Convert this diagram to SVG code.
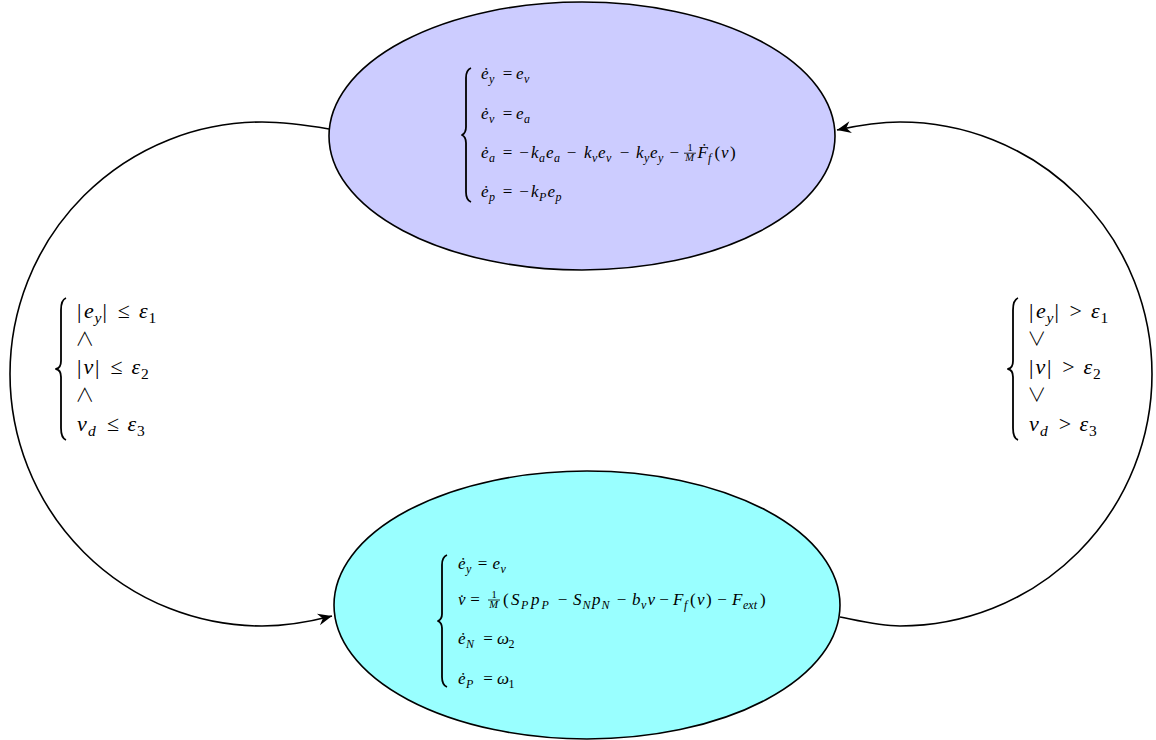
<svg xmlns="http://www.w3.org/2000/svg" width="1156" height="740" viewBox="0 0 1156 740">
<style>
.m{font-family:"Liberation Serif","Times New Roman",serif;font-style:italic;fill:#000}
.u{font-style:normal}
.s{font-size:17px}
.ss{font-size:12px}
.fr{font-size:10.5px}
.b{font-size:22px}
.bs{font-size:15.5px}
.lg{font-family:"Noto Sans CJK JP","DejaVu Sans",sans-serif;font-weight:300;font-size:19px;text-anchor:middle;fill:#000}
.node{stroke:#000;stroke-width:1.6}
.brace{fill:none;stroke:#000;stroke-width:1.8;stroke-linejoin:round}
.edge{fill:none;stroke:#000;stroke-width:1.6}
.bar{stroke:#000;stroke-width:0.8}
</style>
<defs>
<marker id="arr" markerUnits="userSpaceOnUse" markerWidth="18" markerHeight="14" viewBox="-15 -7 17 14" refX="0" refY="0" orient="auto">
<path d="M0,0 L-14,-6 L-9.5,0 L-14,6 Z" fill="#000"/>
</marker>
</defs>
<rect width="1156" height="740" fill="#fff"/>
<g id="connectors">
<path class="edge" d="M329,129 C300,124 282,122 262,122 A252 252 0 0 0 262 626 C283,626 305,623 332,616" marker-end="url(#arr)"/>
<path class="edge" d="M840,617 C860,621 880,626 900,626 A252 252 0 0 0 900 122 C880,122 860,125 837,130" marker-end="url(#arr)"/>
</g>
<g id="cond-left">
<path class="brace" d="M66,298 Q61,300 61,310 L61,361 Q61,368 56,369 Q61,370 61,377 L61,428 Q61,438 66,440"/>
<text class="m b"><tspan class="u" x="77" y="318">|</tspan><tspan x="84" y="318">e</tspan><tspan class="bs" x="94.5" y="322.5">y</tspan><tspan class="u" x="102.5" y="318">|</tspan><tspan class="u" x="117.7" y="318">≤</tspan><tspan x="139" y="318">ε</tspan><tspan class="bs u" x="148.5" y="322.5">1</tspan></text>
<text class="lg" x="84.7" y="346">∧</text>
<text class="m b"><tspan class="u" x="77" y="374">|</tspan><tspan x="83.5" y="374">v</tspan><tspan class="u" x="95" y="374">|</tspan><tspan class="u" x="110.4" y="374">≤</tspan><tspan x="131.5" y="374">ε</tspan><tspan class="bs u" x="141" y="378.5">2</tspan></text>
<text class="lg" x="84.7" y="402">∧</text>
<text class="m b"><tspan x="77" y="431">v</tspan><tspan class="bs" x="88" y="435.5">d</tspan><tspan class="u" x="107" y="431">≤</tspan><tspan x="127.5" y="431">ε</tspan><tspan class="bs u" x="137" y="435.5">3</tspan></text>
</g>
<g id="cond-right">
<path class="brace" d="M1018,298 Q1013,300 1013,310 L1013,361 Q1013,368 1008,369 Q1013,370 1013,377 L1013,428 Q1013,438 1018,440"/>
<text class="m b"><tspan class="u" x="1029" y="318">|</tspan><tspan x="1036" y="318">e</tspan><tspan class="bs" x="1046.5" y="322.5">y</tspan><tspan class="u" x="1054.5" y="318">|</tspan><tspan class="u" x="1069.5" y="318">&gt;</tspan><tspan x="1091" y="318">ε</tspan><tspan class="bs u" x="1100.5" y="322.5">1</tspan></text>
<text class="lg" x="1036.7" y="346">∨</text>
<text class="m b"><tspan class="u" x="1029" y="374">|</tspan><tspan x="1035.5" y="374">v</tspan><tspan class="u" x="1047" y="374">|</tspan><tspan class="u" x="1062.2" y="374">&gt;</tspan><tspan x="1083.5" y="374">ε</tspan><tspan class="bs u" x="1093" y="378.5">2</tspan></text>
<text class="lg" x="1036.7" y="402">∨</text>
<text class="m b"><tspan x="1029" y="431">v</tspan><tspan class="bs" x="1040" y="435.5">d</tspan><tspan class="u" x="1058.8" y="431">&gt;</tspan><tspan x="1079.5" y="431">ε</tspan><tspan class="bs u" x="1089" y="435.5">3</tspan></text>
</g>
<g id="node-top">
<ellipse class="node" cx="582" cy="136" rx="253" ry="134" fill="#ccccff"/>
<path class="brace" d="M471,68 Q466,70 466,78 L466,127 Q466,133 462,135 Q466,137 466,143 L466,192 Q466,200 471,202"/>
<text class="m s"><tspan x="481" y="79">ė</tspan><tspan class="ss" x="489" y="82.5">y</tspan><tspan class="u" x="502.7" y="79">=</tspan><tspan x="516" y="79">e</tspan><tspan class="ss" x="524" y="82.5">v</tspan></text>
<text class="m s"><tspan x="481" y="119">ė</tspan><tspan class="ss" x="489" y="122.5">v</tspan><tspan class="u" x="502.7" y="119">=</tspan><tspan x="516" y="119">e</tspan><tspan class="ss" x="524" y="122.5">a</tspan></text>
<text class="m s"><tspan x="481" y="158">ė</tspan><tspan class="ss" x="489" y="161.5">a</tspan><tspan class="u" x="502.7" y="158">=</tspan><tspan class="u" x="519.2" y="158">−</tspan><tspan x="531" y="158">k</tspan><tspan class="ss" x="539" y="161.5">a</tspan><tspan x="546" y="158">e</tspan><tspan class="ss" x="554" y="161.5">a</tspan><tspan class="u" x="566.7" y="158">−</tspan><tspan x="584" y="158">k</tspan><tspan class="ss" x="592" y="161.5">v</tspan><tspan x="598" y="158">e</tspan><tspan class="ss" x="606" y="161.5">v</tspan><tspan class="u" x="619.7" y="158">−</tspan><tspan x="636" y="158">k</tspan><tspan class="ss" x="644" y="161.5">y</tspan><tspan x="650" y="158">e</tspan><tspan class="ss" x="658" y="161.5">y</tspan><tspan class="u" x="669.5" y="158">−</tspan><tspan x="697.5" y="158">F&#775;</tspan><tspan class="ss" x="708" y="161.5">f</tspan><tspan class="u" x="714.5" y="158">(</tspan><tspan x="721" y="158">v</tspan><tspan class="u" x="730" y="158">)</tspan></text>
<text class="m fr u" x="687.4" y="151.3">1</text>
<line class="bar" x1="684" y1="153.2" x2="696" y2="153.2"/>
<text class="m fr" x="685.2" y="161">M</text>
<text class="m s"><tspan x="481" y="197">ė</tspan><tspan class="ss" x="489" y="200.5">p</tspan><tspan class="u" x="502.7" y="197">=</tspan><tspan class="u" x="519.2" y="197">−</tspan><tspan x="531" y="197">k</tspan><tspan class="ss" x="539" y="200.5">P</tspan><tspan x="547.5" y="197">e</tspan><tspan class="ss" x="555.5" y="200.5">p</tspan></text>
</g>
<g id="node-bottom">
<ellipse class="node" cx="587" cy="605" rx="253" ry="134" fill="#99ffff"/>
<path class="brace" d="M447,555 Q442,557 442,565 L442,614 Q442,619 438,621 Q442,623 442,628 L442,677 Q442,685 447,687"/>
<text class="m s"><tspan x="458" y="569">ė</tspan><tspan class="ss" x="466" y="572.5">y</tspan><tspan class="u" x="477.7" y="569">=</tspan><tspan x="492.5" y="569">e</tspan><tspan class="ss" x="500.5" y="572.5">v</tspan></text>
<text class="m s"><tspan x="458" y="605">v&#775;</tspan><tspan class="u" x="470.2" y="605">=</tspan><tspan class="u" x="503" y="605">(</tspan><tspan x="511" y="605">S</tspan><tspan class="ss" x="521" y="608.5">P</tspan><tspan x="531" y="605">p</tspan><tspan class="ss" x="541.5" y="608.5">P</tspan><tspan class="u" x="557.7" y="605">−</tspan><tspan x="573" y="605">S</tspan><tspan class="ss" x="582.5" y="608.5">N</tspan><tspan x="592" y="605">p</tspan><tspan class="ss" x="601.5" y="608.5">N</tspan><tspan class="u" x="616.7" y="605">−</tspan><tspan x="632" y="605">b</tspan><tspan class="ss" x="641" y="608.5">v</tspan><tspan x="647.5" y="605">v</tspan><tspan class="u" x="659.2" y="605">−</tspan><tspan x="673" y="605">F</tspan><tspan class="ss" x="684" y="608.5">f</tspan><tspan class="u" x="690" y="605">(</tspan><tspan x="697" y="605">v</tspan><tspan class="u" x="706" y="605">)</tspan><tspan class="u" x="717.2" y="605">−</tspan><tspan x="732" y="605">F</tspan><tspan class="ss" x="743" y="608.5">ext</tspan><tspan class="u" x="760" y="605">)</tspan></text>
<text class="m fr u" x="491.4" y="598">1</text>
<line class="bar" x1="488" y1="600" x2="500" y2="600"/>
<text class="m fr" x="489.2" y="608">M</text>
<text class="m s"><tspan x="458" y="644">ė</tspan><tspan class="ss" x="466" y="647.5">N</tspan><tspan class="u" x="483.2" y="644">=</tspan><tspan x="497" y="644">ω</tspan><tspan class="ss u" x="508.5" y="647.5">2</tspan></text>
<text class="m s"><tspan x="458" y="684">ė</tspan><tspan class="ss" x="466" y="687.5">P</tspan><tspan class="u" x="483.2" y="684">=</tspan><tspan x="497" y="684">ω</tspan><tspan class="ss u" x="508.5" y="687.5">1</tspan></text>
</g>
</svg>
